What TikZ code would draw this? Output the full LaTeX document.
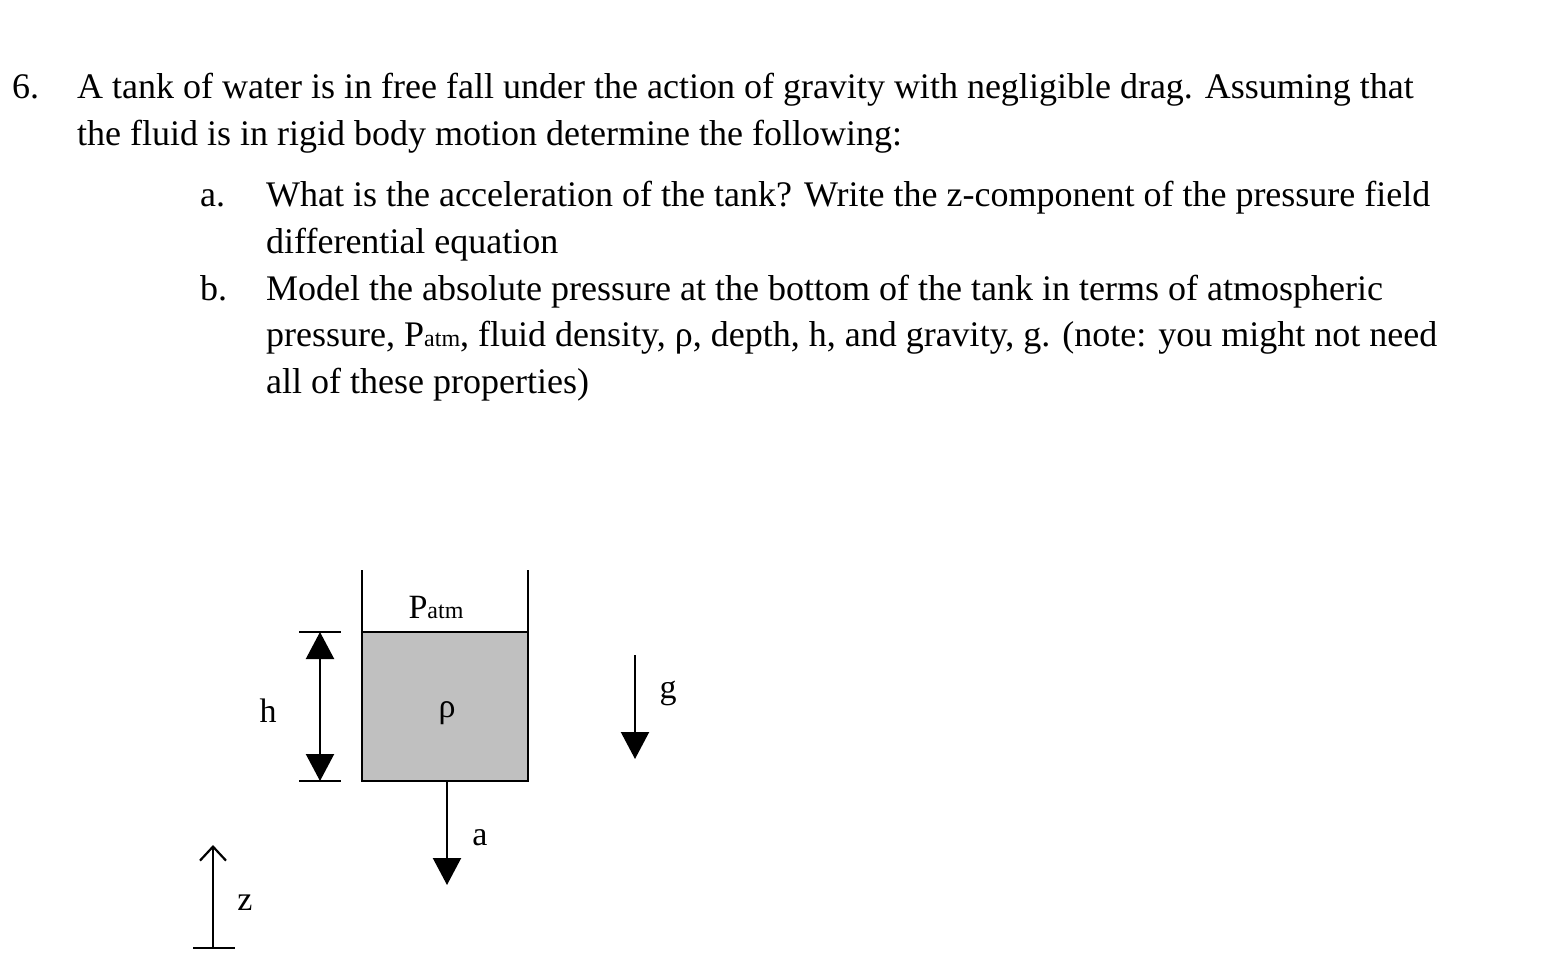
\documentclass[tikz,border=0pt]{standalone}
\usepackage{fontspec}
\setmainfont{Liberation Serif}
\usetikzlibrary{arrows.meta}
\begin{document}
\begin{tikzpicture}[x=1pt,y=-1pt,
  txt/.style={anchor=base west,inner sep=0pt,font=\fontsize{36}{40}\selectfont},
  lbl/.style={inner sep=0pt,font=\fontsize{34}{38}\selectfont},
  line/.style={line width=2.2pt},
  tri/.style={-{Triangle[length=27pt,width=28pt]}},
  opn/.style={-{Straight Barb[length=14pt,width=26pt,line width=2.2pt]}}]
\useasboundingbox (0,0) rectangle (1558,969);
\node[txt] (n6) at (12,98) {6.};
\node[txt] (l1) at (77,98) {A tank of water is in free fall under the action of gravity with negligible drag. Assuming that};
\node[txt] (l2) at (77,145) {the fluid is in rigid body motion determine the following:};
\node[txt] (na) at (200,206) {a.};
\node[txt] (a1) at (266,206) {What is the acceleration of the tank? Write the z-component of the pressure field};
\node[txt] (a2) at (266,253) {differential equation};
\node[txt] (nb) at (200,300) {b.};
\node[txt] (b1) at (266,300) {Model the absolute pressure at the bottom of the tank in terms of atmospheric};
\node[txt] (b2) at (266,346) {pressure, P{\fontsize{24}{28}\selectfont atm}, fluid density, ρ, depth, h, and gravity, g. (note: you might not need};
\node[txt] (b3) at (266,393) {all of these properties)};
% tank
\fill[fill={rgb,255:red,192;green,192;blue,192}] (362,632) rectangle (528,781);
\draw[line] (362,570) -- (362,781) -- (528,781) -- (528,570);
\draw[line] (362,632) -- (528,632);
\node[lbl] (patm) at (436,607) {P{\fontsize{24}{28}\selectfont atm}};
\node[lbl] (rho) at (447,713) {ρ};
% dimension h
\coordinate (ht) at (320,632); \coordinate (hb) at (320,781);
\draw[line] (299,632) -- (341,632);
\draw[line] (299,781) -- (341,781);
\draw[line,{Triangle[length=27pt,width=28pt]}-{Triangle[length=27pt,width=28pt]}] (ht) -- (hb);
\node[lbl] (h) at (268,711) {h};
% g
\coordinate (g1) at (635,655); \coordinate (g2) at (635,759);
\draw[line,tri] (g1) -- (g2);
\node[lbl] (g) at (668,693) {g};
% a
\coordinate (a0) at (447,781); \coordinate (aa) at (447,885);
\draw[line,tri] (a0) -- (aa);
\node[lbl] (alab) at (480,838) {a};
% z
\coordinate (z0) at (213,948); \coordinate (z1) at (213,845);
\draw[line] (193,948) -- (235,948);
\draw[line,opn] (z0) -- (z1);
\node[lbl] (z) at (245,903) {z};
\end{tikzpicture}
\end{document}
